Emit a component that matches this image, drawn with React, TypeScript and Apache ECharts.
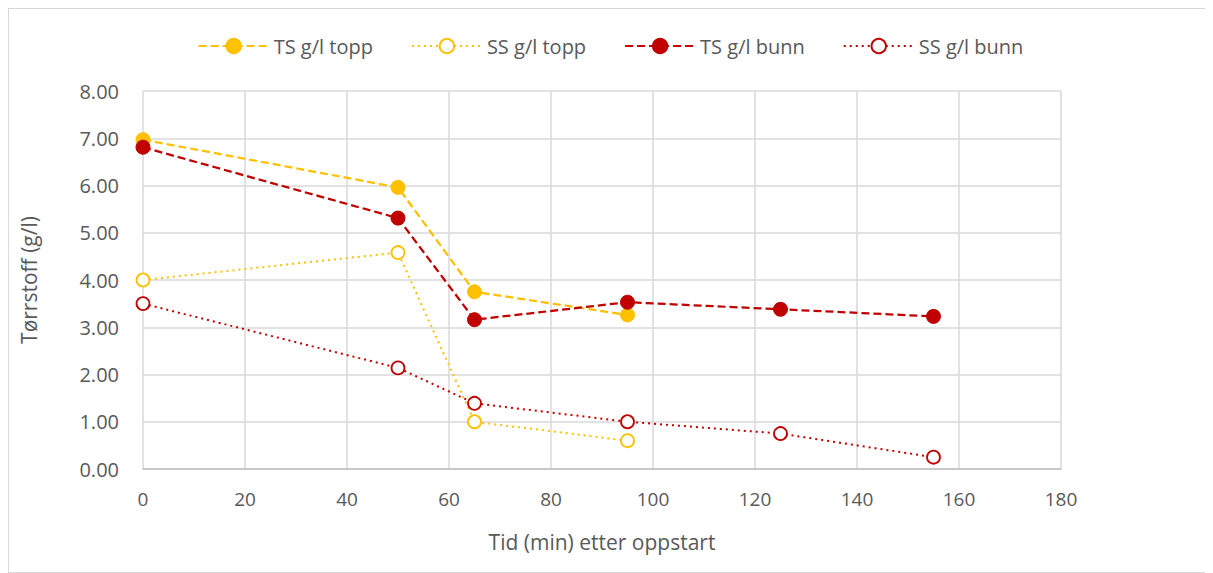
import React, { useEffect, useRef } from "react";
import * as echarts from "echarts";

const tsToppX = [0, 50, 65, 95];
const tsToppY = [6.97, 5.96, 3.75, 3.26];
const ssToppX = [0, 50, 65, 95];
const ssToppY = [4.0, 4.58, 1.0, 0.6];
const tsBunnX = [0, 50, 65, 95, 125, 155];
const tsBunnY = [6.81, 5.31, 3.16, 3.53, 3.38, 3.23];
const ssBunnX = [0, 50, 65, 95, 125, 155];
const ssBunnY = [3.5, 2.14, 1.39, 1.0, 0.75, 0.25];

const seriesNames = ["TS g/l topp", "SS g/l topp", "TS g/l bunn", "SS g/l bunn"];
const xName = "Tid (min) etter oppstart";
const yName = "Tørrstoff (g/l)";

const YELLOW = "#FFC000";
const RED = "#C00000";
const FONT = "'Liberation Sans Narrow', 'Open Sans', sans-serif";

function pairs(xs: number[], ys: number[]) {
  return xs.map((x, i) => [x, ys[i]]);
}

export default function App() {
  const ref = useRef<HTMLDivElement>(null);
  useEffect(() => {
    if (!ref.current) return;
    const chart = echarts.init(ref.current, undefined, { renderer: "svg" });
    const filled = (name: string, color: string, xs: number[], ys: number[]) => ({
      name,
      type: "line",
      data: pairs(xs, ys),
      symbol: "circle",
      symbolSize: 14,
      itemStyle: { color, borderColor: color, borderWidth: 1 },
      lineStyle: { color, width: 2.25, type: [8, 4] },
      z: 3,
    });
    const open = (name: string, color: string, xs: number[], ys: number[]) => ({
      name,
      type: "line",
      data: pairs(xs, ys),
      symbol: "circle",
      symbolSize: 13,
      itemStyle: { color: "#ffffff", borderColor: color, borderWidth: 1.8 },
      lineStyle: { color, width: 2, type: [2, 4] },
      z: 2,
    });
    chart.setOption({
      animation: false,
      backgroundColor: "#ffffff",
      textStyle: { fontFamily: FONT },
      legend: {
        top: 22,
        left: "center",
        itemWidth: 70,
        itemHeight: 18,
        itemGap: 38,
        textStyle: { fontSize: 20, color: "#595959", fontFamily: FONT },
        data: seriesNames,
      },
      grid: { left: 134, top: 82, right: 151, bottom: 103, containLabel: false },
      xAxis: {
        type: "value",
        min: 0,
        max: 180,
        interval: 20,
        name: xName,
        nameLocation: "middle",
        nameGap: 62,
        nameTextStyle: { fontSize: 21, color: "#595959", fontFamily: FONT },
        axisLine: { show: true, lineStyle: { color: "#bfbfbf", width: 1.5 } },
        axisTick: { show: false },
        axisLabel: { fontSize: 19, color: "#595959", margin: 20, fontFamily: FONT },
        splitLine: { show: true, lineStyle: { color: "#d9d9d9", width: 1.5 } },
      },
      yAxis: {
        type: "value",
        min: 0,
        max: 8,
        interval: 1,
        name: yName,
        nameLocation: "middle",
        nameGap: 104,
        nameTextStyle: { fontSize: 21, color: "#595959", fontFamily: FONT },
        axisLine: { show: false },
        axisTick: { show: false },
        axisLabel: {
          fontSize: 20,
          color: "#595959",
          margin: 24,
          fontFamily: FONT,
          formatter: (v: number) => v.toFixed(2),
        },
        splitLine: { show: true, lineStyle: { color: "#d9d9d9", width: 1.5 } },
      },
      series: [
        filled(seriesNames[0], YELLOW, tsToppX, tsToppY),
        open(seriesNames[1], YELLOW, ssToppX, ssToppY),
        filled(seriesNames[2], RED, tsBunnX, tsBunnY),
        open(seriesNames[3], RED, ssBunnX, ssBunnY),
      ],
    });
    return () => chart.dispose();
  }, []);
  return (
    <div
      ref={ref}
      style={{ width: 1205, height: 565, boxSizing: "border-box", border: "1px solid #d9d9d9" }}
    />
  );
}
